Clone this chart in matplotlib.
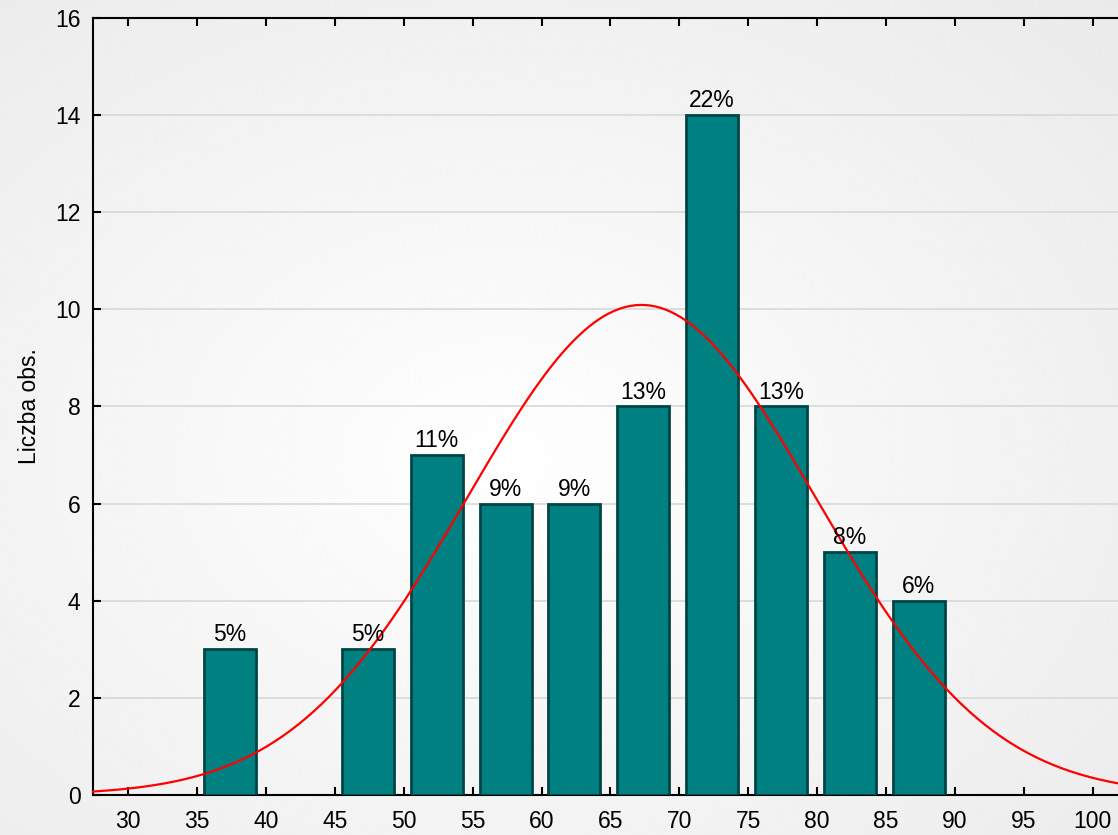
import numpy as np
import matplotlib.pyplot as plt

plt.rcParams['font.family'] = ['Liberation Sans', 'DejaVu Sans']

# Dane histogramu
bin_left = [35, 45, 50, 55, 60, 65, 70, 75, 80, 85]
counts = [3, 3, 7, 6, 6, 8, 14, 8, 5, 4]
pct_labels = ['5%', '5%', '11%', '9%', '9%', '13%', '22%', '13%', '8%', '6%']
bin_width = 5
fit_mean = 67.25
fit_sd = 12.65

x_ticks = list(range(30, 105, 5))
y_ticks = list(range(0, 17, 2))

fig = plt.figure(figsize=(11.18, 8.35), dpi=100)

# tło z gradientem
bg = fig.add_axes([0, 0, 1, 1], zorder=-10)
yy, xx = np.mgrid[0:1:300j, 0:1:400j]
r = np.sqrt(((xx - 0.45) / 0.85) ** 2 + ((yy - 0.55) / 0.85) ** 2)
bg.imshow(1 - 0.09 * np.clip(r, 0, 1), cmap='gray', vmin=0, vmax=1,
          extent=[0, 1, 0, 1], aspect='auto', interpolation='bicubic')
bg.axis('off')

ax = fig.add_axes([93 / 1118, 1 - 795 / 835, 1 - 93 / 1118, (795 - 18) / 835])
ax.set_facecolor('none')

lefts = [b + 0.5 for b in bin_left]
bars = ax.bar(lefts, counts, width=3.77, align='edge', color='#008080',
              edgecolor='#004545', linewidth=2, zorder=3)

for rect, lab in zip(bars, pct_labels):
    ax.text(rect.get_x() + rect.get_width() / 2, rect.get_height() + 0.06, lab,
            ha='center', va='bottom', fontsize=16.5, zorder=5)

# dopasowany rozkład normalny
xs = np.linspace(27.44, 101.84, 400)
ys = sum(counts) * bin_width / (fit_sd * np.sqrt(2 * np.pi)) * \
    np.exp(-(xs - fit_mean) ** 2 / (2 * fit_sd ** 2))
ax.plot(xs, ys, color='red', linewidth=1.6, zorder=4, clip_on=False)

ax.set_xlim(27.44, 101.84)
ax.set_ylim(0, 16)
ax.set_xticks(x_ticks)
ax.set_yticks(y_ticks)
ax.tick_params(axis='both', labelsize=16.5, direction='in', length=6, width=1.5,
               top=True, right=False)
ax.tick_params(axis='y', pad=9)
ax.tick_params(axis='x', pad=11)
ax.grid(axis='y', color='#d8d8d8', linewidth=1.2, zorder=0)
ax.set_axisbelow(True)
for s in ['left', 'bottom', 'top']:
    ax.spines[s].set_linewidth(1.5)
ax.spines['right'].set_visible(False)

ax.set_ylabel('Liczba obs.', fontsize=16.5, labelpad=10)

fig.savefig('out.png', dpi=100)
